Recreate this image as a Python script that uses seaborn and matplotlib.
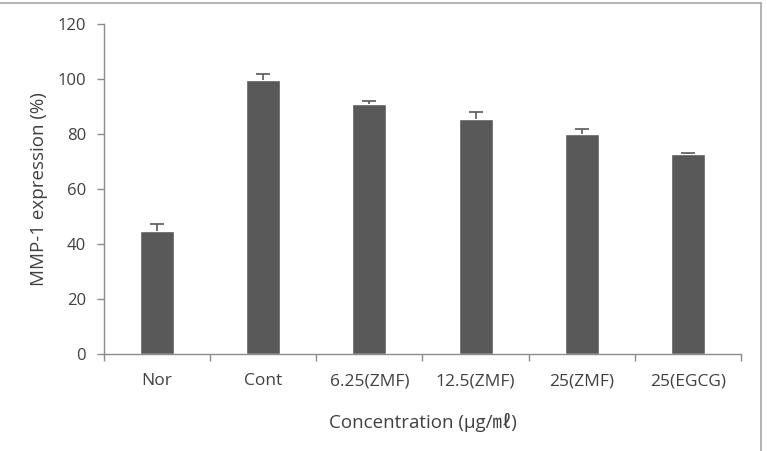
import matplotlib
matplotlib.use("Agg")
import matplotlib.pyplot as plt
import seaborn as sns
import pandas as pd
from matplotlib.lines import Line2D

categories = ["Nor", "Cont", "6.25(ZMF)", "12.5(ZMF)", "25(ZMF)", "25(EGCG)"]
expression = [44.8, 99.7, 90.9, 85.6, 80.0, 72.7]
errors = [2.6, 2.1, 1.1, 2.2, 1.9, 0.4]

df = pd.DataFrame({"Concentration": categories, "Expression": expression})

sns.set_style("white")
plt.rcParams["font.family"] = ["Open Sans", "DejaVu Sans"]

text_color = "#404040"
axis_color = "#8c8c8c"
bar_color = "#595959"

fig = plt.figure(figsize=(7.67, 4.51), dpi=100)
ax = fig.add_axes([0.1356, 0.215, 0.8304, 0.732])

sns.barplot(data=df, x="Concentration", y="Expression", color=bar_color,
            width=0.32, saturation=1, errorbar=None, ax=ax)

eb = ax.errorbar(range(len(categories)), expression, yerr=[[0] * len(errors), errors],
                 fmt="none", ecolor=bar_color, elinewidth=1.2, capsize=5, capthick=1.2)
eb[1][0].set_visible(False)  # only the upper cap

ax.set_ylim(0, 120)
ax.set_yticks(range(0, 121, 20))
ax.set_xlim(-0.5, len(categories) - 0.5)

# category separators as tick marks, Excel style
ax.set_xticks([i - 0.5 for i in range(len(categories) + 1)], minor=True)
ax.tick_params(axis="x", which="major", length=0, pad=14, labelsize=12.5, colors=text_color)
ax.tick_params(axis="x", which="minor", length=5, width=1, color=axis_color, direction="out", bottom=True)
ax.tick_params(axis="y", length=5, width=1, color=axis_color, direction="out", left=True,
               labelsize=12, labelcolor=text_color, pad=8)

for side in ["top", "right"]:
    ax.spines[side].set_visible(False)
for side in ["left", "bottom"]:
    ax.spines[side].set_color(axis_color)
    ax.spines[side].set_linewidth(1)

ax.set_xlabel("Concentration (μg/㎖)", fontsize=13.5, color=text_color, labelpad=17,
              fontfamily=["Open Sans", "Noto Sans CJK KR", "DejaVu Sans"])
ax.set_ylabel("MMP-1 expression (%)", fontsize=13.5, color=text_color, labelpad=7)

# outer frame (top and right edges visible in the reference)
fig.add_artist(Line2D([0, 0.992], [0.993, 0.993], color="#a6a6a6", lw=1.2, transform=fig.transFigure))
fig.add_artist(Line2D([0.992, 0.992], [0.0, 0.993], color="#a6a6a6", lw=1.2, transform=fig.transFigure))

fig.savefig("out.png", dpi=100)
